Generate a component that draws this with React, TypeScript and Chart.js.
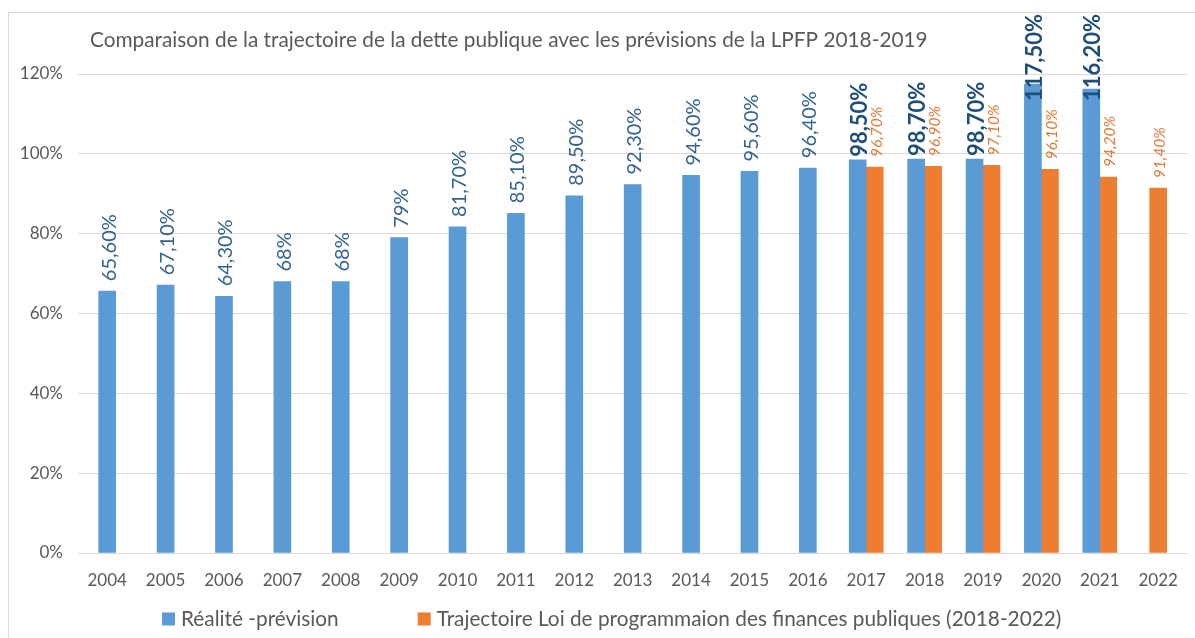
import React, { useEffect, useRef } from "react";
import { Chart, registerables } from "chart.js";
Chart.register(...registerables);

const TITLE = "Comparaison de la trajectoire de la dette publique avec les prévisions de la LPFP 2018-2019";
const years = ["2004", "2005", "2006", "2007", "2008", "2009", "2010", "2011", "2012", "2013", "2014", "2015", "2016", "2017", "2018", "2019", "2020", "2021", "2022"];
const realite = [65.6, 67.1, 64.3, 68, 68, 79, 81.7, 85.1, 89.5, 92.3, 94.6, 95.6, 96.4, 98.5, 98.7, 98.7, 117.5, 116.2, null];
const realiteLabels = ["65,60%", "67,10%", "64,30%", "68%", "68%", "79%", "81,70%", "85,10%", "89,50%", "92,30%", "94,60%", "95,60%", "96,40%", "98,50%", "98,70%", "98,70%", "117,50%", "116,20%", ""];
const realiteBold = [false, false, false, false, false, false, false, false, false, false, false, false, false, true, true, true, true, true, false];
const lpfp = [null, null, null, null, null, null, null, null, null, null, null, null, null, 96.7, 96.9, 97.1, 96.1, 94.2, 91.4];
const lpfpLabels = ["", "", "", "", "", "", "", "", "", "", "", "", "", "96,70%", "96,90%", "97,10%", "96,10%", "94,20%", "91,40%"];
const legendLabels = ["Réalité -prévision", "Trajectoire Loi de programmaion des finances publiques (2018-2022)"];
const yTickValues = [0, 20, 40, 60, 80, 100, 120];
const yTickLabels = ["0%", "20%", "40%", "60%", "80%", "100%", "120%"];

const BLUE = "#5B9BD5";
const ORANGE = "#ED7D31";
const FONT = "Lato, 'Open Sans', sans-serif";

const decor = {
  id: "decor",
  afterDraw(chart: any) {
    const ctx = chart.ctx;
    ctx.save();
    // frame
    ctx.strokeStyle = "#D9D9D9";
    ctx.lineWidth = 1;
    ctx.strokeRect(8.5, 12.5, 1300, 700);
    // title
    ctx.fillStyle = "#595959";
    ctx.font = `20.8px ${FONT}`;
    ctx.textAlign = "left";
    ctx.textBaseline = "middle";
    ctx.fillText(TITLE, 90, 40);
    // legend
    ctx.font = `20.8px ${FONT}`;
    let x = 162;
    const ly = 619;
    const colors = [BLUE, ORANGE];
    legendLabels.forEach((t, i) => {
      ctx.fillStyle = colors[i];
      ctx.fillRect(x, ly - 6.5, 13, 13);
      x += 19;
      ctx.fillStyle = "#595959";
      ctx.fillText(t, x, ly);
      x += ctx.measureText(t).width + 79;
    });
    // data labels
    const TOPLIM = 14;
    const drawLabel = (txt: string, cx: number, bottom: number, font: string, color: string) => {
      ctx.font = font;
      const len = ctx.measureText(txt).width;
      let b = bottom;
      if (b - len < TOPLIM) b = TOPLIM + len;
      ctx.save();
      ctx.translate(cx, b);
      ctx.rotate(-Math.PI / 2);
      ctx.fillStyle = color;
      ctx.textAlign = "left";
      ctx.textBaseline = "middle";
      ctx.fillText(txt, 0, 2);
      ctx.restore();
    };
    const m0 = chart.getDatasetMeta(0);
    m0.data.forEach((el: any, i: number) => {
      if (realite[i] == null) return;
      if (realiteBold[i]) {
        drawLabel(realiteLabels[i], el.x, el.y - 3, `bold 22px ${FONT}`, "#1F4E79");
      } else {
        drawLabel(realiteLabels[i], el.x, el.y - 10, `20px ${FONT}`, "#33638F");
      }
    });
    const m1 = chart.getDatasetMeta(1);
    m1.data.forEach((el: any, i: number) => {
      if (lpfp[i] == null) return;
      drawLabel(lpfpLabels[i], el.x, el.y - 10, `italic 15.5px ${FONT}`, "#E07B39");
    });
    ctx.restore();
  },
};

export default function App() {
  const ref = useRef<HTMLCanvasElement>(null);
  useEffect(() => {
    const chart = new Chart(ref.current as HTMLCanvasElement, {
      type: "bar",
      data: {
        labels: years,
        datasets: [
          { label: legendLabels[0], data: realite as any, backgroundColor: BLUE, barThickness: 17, skipNull: true } as any,
          { label: legendLabels[1], data: lpfp as any, backgroundColor: ORANGE, barThickness: 17, skipNull: true } as any,
        ],
      },
      options: {
        responsive: false,
        animation: false,
        layout: { padding: { top: 74, right: 4, left: 0, bottom: 0 } },
        plugins: { legend: { display: false }, title: { display: false }, tooltip: { enabled: false } },
        scales: {
          x: {
            grid: { display: false, drawTicks: false },
            border: { display: false },
            ticks: { color: "#595959", font: { family: FONT, size: 17 }, padding: 17, maxRotation: 0, autoSkip: false },
            afterFit: (s: any) => { s.height = 85; },
          },
          y: {
            min: 0,
            max: 120,
            afterBuildTicks: (s: any) => { s.ticks = yTickValues.map((v) => ({ value: v })); },
            ticks: {
              color: "#595959",
              font: { family: FONT, size: 17 },
              padding: 15,
              callback: (v: any) => yTickLabels[yTickValues.indexOf(Number(v))],
            },
            grid: { color: "#D9D9D9", drawTicks: false },
            border: { display: false },
            afterFit: (s: any) => { s.width = 78; },
          },
        },
      },
      plugins: [decor],
    });
    return () => chart.destroy();
  }, []);
  return (
    <div style={{ position: "absolute", left: 0, top: 0, width: 1195, height: 638, background: "#fff" }}>
      <canvas ref={ref} width={1195} height={638} />
    </div>
  );
}
